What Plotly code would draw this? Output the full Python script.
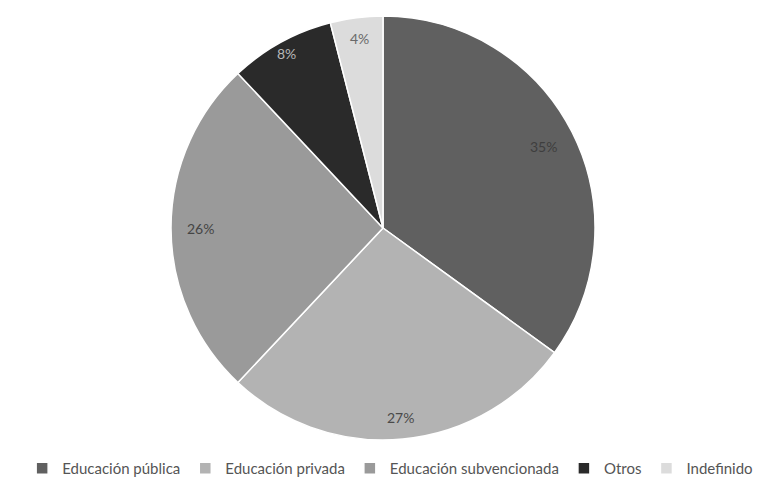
import math
import plotly.graph_objects as go

categories = ["Educación pública", "Educación privada", "Educación subvencionada", "Otros", "Indefinido"]
values = [35, 27, 26, 8, 4]
colors = ["#606060", "#b3b3b3", "#9a9a9a", "#2a2a2a", "#dcdcdc"]
text_colors = ["#3e3e3e", "#4a4a4a", "#454545", "#b8b8b8", "#6a6a6a"]

W, H = 765, 485
cx, cy, R = 383, 228, 212

fig = go.Figure(go.Pie(
    labels=categories, values=values, sort=False, direction="clockwise", rotation=0,
    marker=dict(colors=colors, line=dict(color="white", width=1.5)),
    textinfo="none",
    domain=dict(x=[(cx - R) / W, (cx + R) / W], y=[(H - cy - R) / H, (H - cy + R) / H]),
    hoverinfo="label+percent",
))

total = sum(values)
cum = 0
label_r = [0.85, 0.9, 0.86, 0.94, 0.9]
for v, tc, lr in zip(values, text_colors, label_r):
    mid = (cum + v / 2) / total * 2 * math.pi
    cum += v
    px = cx + lr * R * math.sin(mid)
    py = cy - lr * R * math.cos(mid)
    fig.add_annotation(x=px / W, y=1 - py / H, xref="paper", yref="paper",
                       xanchor="center", yanchor="middle",
                       text=f"{round(v / total * 100)}%", showarrow=False,
                       font=dict(family="Lato, sans-serif", size=14, color=tc))

fig.update_layout(
    width=W, height=H, margin=dict(l=0, r=0, t=0, b=0),
    paper_bgcolor="white", plot_bgcolor="white",
    showlegend=True,
    legend=dict(orientation="h", x=0.51, xanchor="center", y=0.0, yanchor="bottom",
                font=dict(family="Lato, sans-serif", size=15, color="#555555"),
                itemwidth=30, traceorder="normal", tracegroupgap=0),
)
fig.write_html("out.html")
